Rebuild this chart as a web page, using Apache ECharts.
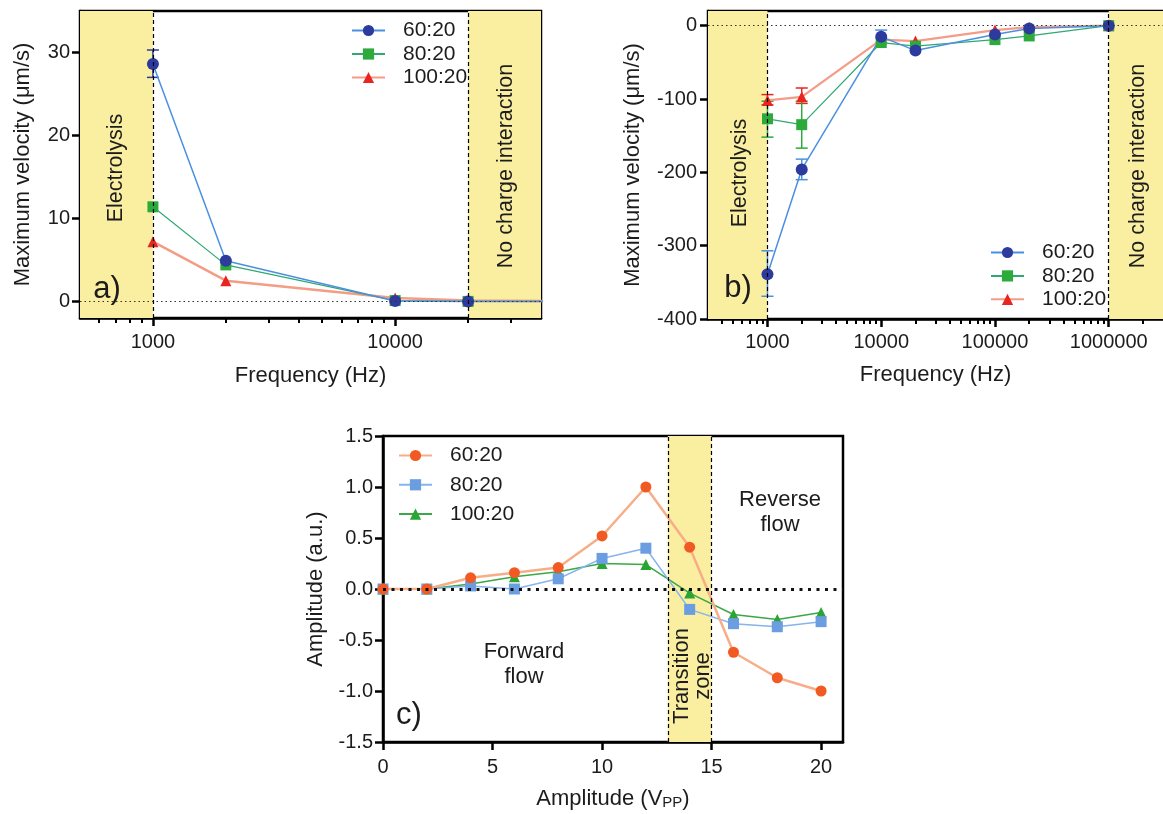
<!DOCTYPE html>
<html><head><meta charset="utf-8">
<script src="https://cdn.jsdelivr.net/npm/echarts@6/dist/echarts.min.js"></script>
<style>html,body{margin:0;padding:0;background:#fff}#c{width:1163px;height:814px}</style>
</head><body><div id="c"></div>
<script>
// ---------- DATA ----------
const seriesNames = ['60:20', '80:20', '100:20'];
// Panel a
const freqA = [1000, 2000, 10000, 20000, 100000];
const velA_60 = [28.6, 4.9, 0.05, 0.0, 0.0];
const velA_80 = [11.4, 4.4, 0.1, 0.0, 0.0];
const velA_100 = [7.2, 2.5, 0.4, 0.1, 0.0];
const errA_60 = [[1000, 27.0, 30.3]];
// Panel b
const freqB = [1000, 2000, 10000, 20000, 100000, 200000, 1000000];
const velB_60 = [-339, -196, -15, -34, -12, -4, 0];
const velB_80 = [-127, -135, -23, -28, -19, -14, 0];
const velB_100 = [-102, -97, -19, -21, -6, -2, 0];
const errB_60 = [[1000, -369, -307], [2000, -210, -182], [10000, -23, -6]];
const errB_80 = [[1000, -152, -103], [2000, -167, -103]];
const errB_100 = [[1000, -108, -94], [2000, -106, -85]];
// Panel c
const ampC = [0, 2, 4, 6, 8, 10, 12, 14, 16, 18, 20];
const ampC_60 = [0, 0, 0.11, 0.16, 0.21, 0.52, 1.0, 0.41, -0.62, -0.87, -1.0];
const ampC_80 = [0, 0, 0.03, 0.0, 0.10, 0.30, 0.40, -0.20, -0.34, -0.37, -0.32];
const ampC_100 = [0, 0, 0.05, 0.12, 0.17, 0.25, 0.24, -0.04, -0.25, -0.30, -0.23];
// Tick values
const ticksA_x = [1000, 10000];
const minorA_x = [600, 700, 800, 900, 2000, 3000, 4000, 5000, 6000, 7000, 8000, 9000, 20000, 30000];
const ticksA_y = [0, 10, 20, 30];
const ticksB_x = [1000, 10000, 100000, 1000000];
const minorB_x = [400, 500, 600, 700, 800, 900, 2000, 3000, 4000, 5000, 6000, 7000, 8000, 9000,
  20000, 30000, 40000, 50000, 60000, 70000, 80000, 90000,
  200000, 300000, 400000, 500000, 600000, 700000, 800000, 900000, 2000000];
const ticksB_y = [-400, -300, -200, -100, 0];
const ticksC_x = [0, 5, 10, 15, 20];
// Regions
const regionA = [[500, 1000], [20000, 40000]];
const regionB = [[300, 1000], [1000000, 3000000]];
const regionC = [[13, 15]];

// ---------- STYLE ----------
const FONT = '"Liberation Sans", Arial, Helvetica, sans-serif';
const TXT = '#1c1c1c';
const YELLOW = '#FAEEA0';
const AX = { color: '#000', width: 2.5 };
const C = {
  navy: '#2D3B9E', blueLine: '#4B90E0',
  green: '#2DAA3C', greenLine: '#2FA873',
  red: '#E8251E', salmon: '#F49C86',
  orange: '#F15A22', orangeLine: '#F7AE88',
  lblue: '#6A9EE0', lblueLine: '#86B4EC',
  cgreen: '#2AA432', cgreenLine: '#3AA845'
};

const chart = echarts.init(document.getElementById('c'));

function pairs(xs, ys) { return xs.map((x, i) => [x, ys[i]]); }

function xLog(grid, min, max, ticks, nameGap, margin) {
  return {
    type: 'log', logBase: 10, gridIndex: grid, min: min, max: max,
    axisLine: { show: true, onZero: false, lineStyle: AX },
    axisTick: { show: true, customValues: ticks, length: 8, lineStyle: AX },
    axisLabel: { customValues: ticks, fontSize: 20, fontFamily: FONT, color: TXT, margin: margin,
      formatter: v => String(Math.round(v)) },
    splitLine: { show: false }, minorTick: { show: false },
    name: 'Frequency (Hz)', nameLocation: 'middle', nameGap: nameGap,
    nameTextStyle: { fontSize: 22, fontFamily: FONT, color: TXT }
  };
}
function xMinor(grid, min, max, ticks) {
  return {
    type: 'log', logBase: 10, gridIndex: grid, min: min, max: max, position: 'bottom',
    axisLine: { show: false, onZero: false },
    axisTick: { show: true, customValues: ticks, length: 5, lineStyle: { color: '#000', width: 2 } },
    axisLabel: { show: false }, splitLine: { show: false }
  };
}
function yVal(grid, min, max, ticks, name, nameGap, margin, fmt) {
  const o = {
    type: 'value', gridIndex: grid, min: min, max: max,
    axisLine: { show: true, onZero: false, lineStyle: AX },
    axisTick: { show: true, length: 8, lineStyle: AX },
    axisLabel: { fontSize: 20, fontFamily: FONT, color: TXT, margin: margin },
    splitLine: { show: false },
    name: name, nameLocation: 'middle', nameGap: nameGap,
    nameTextStyle: { fontSize: 22, fontFamily: FONT, color: TXT }
  };
  if (ticks) { o.axisTick.customValues = ticks; o.axisLabel.customValues = ticks; }
  if (fmt) o.axisLabel.formatter = fmt;
  return o;
}

function errRender(color) {
  return function (params, api) {
    const x = api.value(0), lo = api.value(1), hi = api.value(2);
    const a = api.coord([x, lo]), b = api.coord([x, hi]);
    const w = 6;
    const st = { stroke: color, lineWidth: 1.5 };
    return { type: 'group', children: [
      { type: 'line', shape: { x1: a[0], y1: a[1], x2: b[0], y2: b[1] }, style: st },
      { type: 'line', shape: { x1: a[0] - w, y1: a[1], x2: a[0] + w, y2: a[1] }, style: st },
      { type: 'line', shape: { x1: b[0] - w, y1: b[1], x2: b[0] + w, y2: b[1] }, style: st }
    ] };
  };
}
function errSeries(xi, yi, data, color) {
  return { type: 'custom', xAxisIndex: xi, yAxisIndex: yi, data: data, encode: { x: 0, y: [1, 2] },
    renderItem: errRender(color), z: 2, silent: true };
}
function lineSeries(name, xi, yi, data, symbol, size, mcolor, lcolor, lw) {
  return { type: 'line', name: name, xAxisIndex: xi, yAxisIndex: yi, data: data,
    symbol: symbol, symbolSize: size, showSymbol: true, clip: true,
    itemStyle: { color: mcolor, borderWidth: 0 },
    lineStyle: { color: lcolor, width: lw }, z: 3, animation: false, silent: true };
}
function backdrop(xi, yi, regions, vlines, zeroStyle) {
  const ml = vlines.map(v => ({ xAxis: v, lineStyle: { color: '#000', type: [4, 3], width: 1.2 } }));
  ml.push({ yAxis: 0, lineStyle: zeroStyle });
  return { type: 'line', xAxisIndex: xi, yAxisIndex: yi, data: [], z: 1, silent: true,
    markArea: { silent: true, itemStyle: { color: YELLOW }, data: regions.map(r => [{ xAxis: r[0] }, { xAxis: r[1] }]) },
    markLine: { silent: true, symbol: ['none', 'none'], label: { show: false }, animation: false, data: ml } };
}
const dotted = { color: '#333', type: [1.5, 3], width: 1.2 };
const dottedC = { color: '#111', type: [3, 5.5], width: 3 };

function legend(prefix, left, top, gap) {
  return { orient: 'vertical', left: left, top: top, itemGap: gap, itemWidth: 33, itemHeight: 14,
    selectedMode: false, data: seriesNames.map(n => prefix + '|' + n),
    formatter: n => n.split('|')[1],
    textStyle: { fontSize: 21, fontFamily: FONT, color: TXT, padding: [0, 0, 0, 13] } };
}

function txt(text, x, y, size, rot, lh) {
  return { type: 'text', x: x, y: y, rotation: rot || 0, silent: true, z: 100,
    style: { text: text, font: size + 'px ' + FONT, fill: TXT, align: 'center', verticalAlign: 'middle', lineHeight: lh || size } };
}

const option = {
  animation: false,
  backgroundColor: '#fff',
  grid: [
    { left: 80, right: 622, top: 11, bottom: 496, show: true, borderColor: '#000', borderWidth: 2.5 },
    { left: 708, right: -4, top: 11, bottom: 495, show: true, borderColor: '#000', borderWidth: 2.5 },
    { left: 383, right: 320, top: 436, bottom: 72, show: true, borderColor: '#000', borderWidth: 2.5 }
  ],
  xAxis: [
    xLog(0, 500, 40000, ticksA_x, 47, 14),
    xLog(1, 300, 3000000, ticksB_x, 45, 13),
    { type: 'value', gridIndex: 2, min: 0, max: 21,
      axisLine: { show: true, onZero: false, lineStyle: AX },
      axisTick: { show: true, customValues: ticksC_x, length: 8, lineStyle: AX },
      axisLabel: { customValues: ticksC_x, fontSize: 20, fontFamily: FONT, color: TXT, margin: 15 },
      splitLine: { show: false },
      name: 'Amplitude (V{s|PP})', nameLocation: 'middle', nameGap: 45,
      nameTextStyle: { fontSize: 22, fontFamily: FONT, color: TXT,
        rich: { s: { fontSize: 15, fontFamily: FONT, color: TXT, verticalAlign: 'bottom', padding: [8, 0, 0, 0] } } } },
    xMinor(0, 500, 40000, minorA_x),
    xMinor(1, 300, 3000000, minorB_x)
  ],
  yAxis: [
    yVal(0, -2, 35, ticksA_y, 'Maximum velocity (\u03bcm/s)', 46, 10),
    yVal(1, -400, 20, ticksB_y, 'Maximum velocity (\u03bcm/s)', 64, 11),
    (function () { const o = yVal(2, -1.5, 1.5, null, 'Amplitude (a.u.)', 56, 10, v => v.toFixed(1)); o.interval = 0.5; return o; })()
  ],
  legend: [
    legend('a', 346, 15, 2.5),
    legend('b', 985, 237, 2.4),
    legend('c', 393, 440, 8.3)
  ],
  series: [
    // Panel a
    backdrop(0, 0, regionA, [1000, 20000], dotted),
    errSeries(0, 0, errA_60, C.navy),
    lineSeries('a|100:20', 0, 0, pairs(freqA, velA_100), 'triangle', 11, C.red, C.salmon, 2.5),
    lineSeries('a|80:20', 0, 0, pairs(freqA, velA_80), 'rect', 11, C.green, C.greenLine, 1.2),
    lineSeries('a|60:20', 0, 0, pairs(freqA, velA_60), 'circle', 12, C.navy, C.blueLine, 1.5),
    // Panel b
    backdrop(1, 1, regionB, [1000, 1000000], dotted),
    errSeries(1, 1, errB_100, C.red),
    errSeries(1, 1, errB_80, C.green),
    errSeries(1, 1, errB_60, C.blueLine),
    lineSeries('b|100:20', 1, 1, pairs(freqB, velB_100), 'triangle', 11, C.red, C.salmon, 2.2),
    lineSeries('b|80:20', 1, 1, pairs(freqB, velB_80), 'rect', 11, C.green, C.greenLine, 1.2),
    lineSeries('b|60:20', 1, 1, pairs(freqB, velB_60), 'circle', 12, C.navy, C.blueLine, 1.5),
    // Panel c
    backdrop(2, 2, regionC, [13, 15], dottedC),
    lineSeries('c|100:20', 2, 2, pairs(ampC, ampC_100), 'triangle', 11, C.cgreen, C.cgreenLine, 1.5),
    lineSeries('c|80:20', 2, 2, pairs(ampC, ampC_80), 'rect', 11, C.lblue, C.lblueLine, 1.5),
    lineSeries('c|60:20', 2, 2, pairs(ampC, ampC_60), 'circle', 11, C.orange, C.orangeLine, 2.5)
  ],
  graphic: [
    txt('Electrolysis', 116, 168, 21.5, Math.PI / 2),
    txt('No charge interaction', 506, 166, 21.5, Math.PI / 2),
    txt('a)', 107, 289, 31),
    txt('Electrolysis', 740, 173, 21.5, Math.PI / 2),
    txt('No charge interaction', 1138, 166, 21.5, Math.PI / 2),
    txt('b)', 738, 288, 31),
    txt('Forward\nflow', 524, 664, 22, 0, 25),
    txt('Reverse\nflow', 780, 512, 22, 0, 25),
    txt('Transition\nzone', 692, 676, 22, Math.PI / 2, 21),
    txt('c)', 409, 715, 31)
  ]
};
chart.setOption(option);
</script>
</body></html>
